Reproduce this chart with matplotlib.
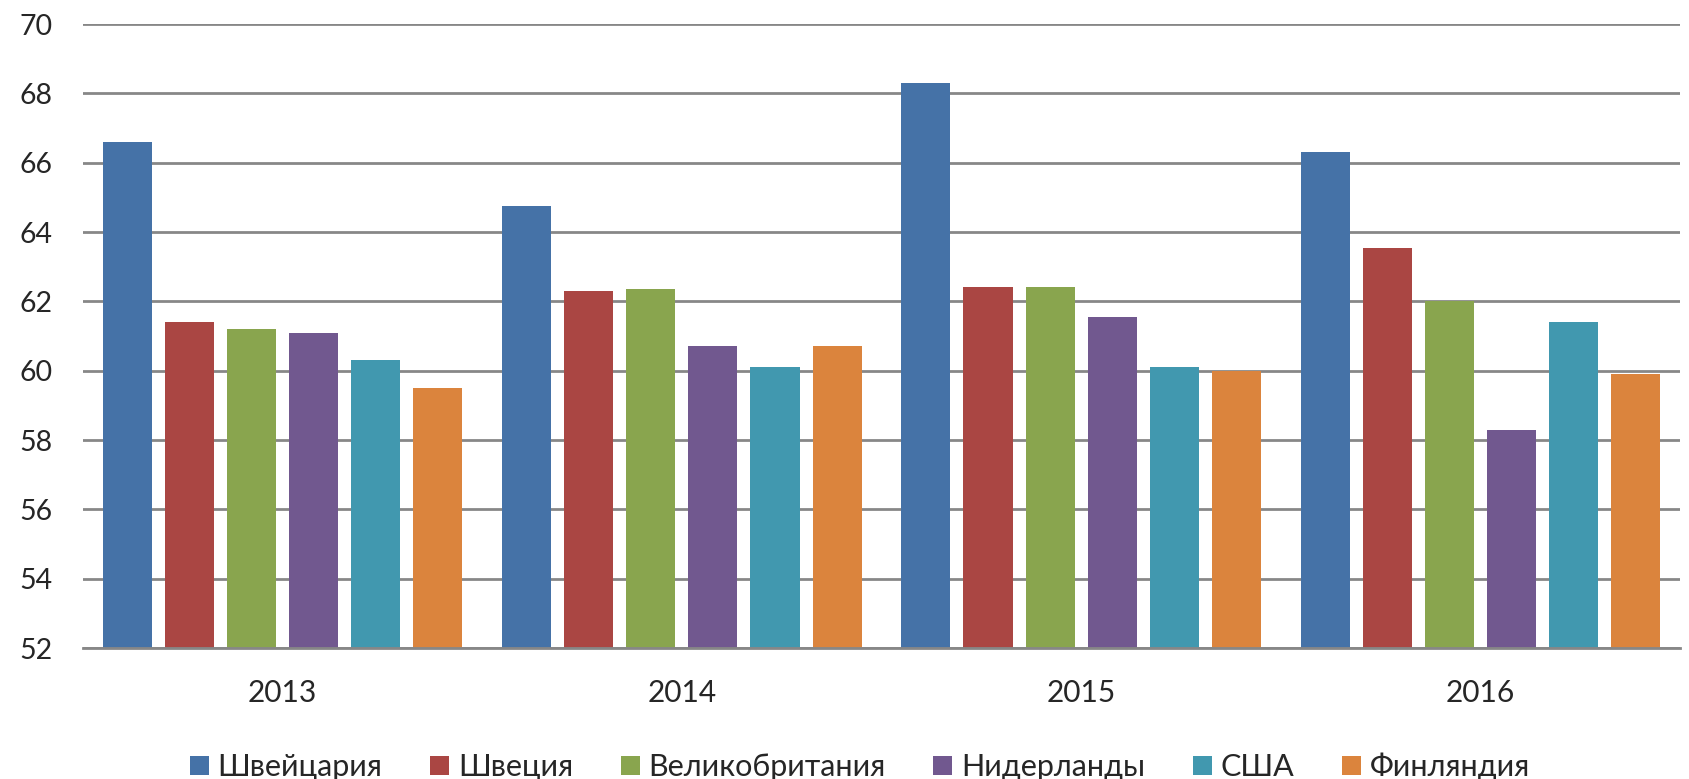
import matplotlib
matplotlib.use("Agg")
import matplotlib.pyplot as plt
import numpy as np

plt.rcParams['font.family'] = ['Lato', 'DejaVu Sans']

years = ['2013', '2014', '2015', '2016']
series_names = ['Швейцария', 'Швеция', 'Великобритания', 'Нидерланды', 'США', 'Финляндия']
switzerland = [66.6, 64.75, 68.3, 66.3]
sweden = [61.4, 62.3, 62.4, 63.55]
uk = [61.2, 62.35, 62.4, 62.0]
netherlands = [61.1, 60.7, 61.55, 58.3]
usa = [60.3, 60.1, 60.1, 61.4]
finland = [59.5, 60.7, 60.0, 59.9]
y_ticks = [52, 54, 56, 58, 60, 62, 64, 66, 68, 70]

series = [switzerland, sweden, uk, netherlands, usa, finland]
colors = ['#4572A7', '#AA4643', '#89A54E', '#71588F', '#4198AF', '#DB843D']

fig = plt.figure(figsize=(16.89, 7.79), dpi=100)
ax = fig.add_axes([83/1689, 1-648/779, (1680-83)/1689, (648-24)/779])

x = np.arange(len(years))
pitch = 0.1555
width = 0.123
for i, (vals, name, c) in enumerate(zip(series, series_names, colors)):
    offs = (i - 2.5) * pitch
    ax.bar(x + offs, np.array(vals) - 52, bottom=52, width=width, color=c, label=name, zorder=3)

ax.set_xlim(-0.5, 3.5)
ax.set_ylim(52, 70)
ax.set_yticks(y_ticks)
ax.set_yticklabels([str(t) for t in y_ticks], fontsize=20.5, color='#262626')
ax.set_xticks(x)
ax.set_xticklabels(years, fontsize=21.5, color='#262626')
ax.tick_params(axis='both', length=0)
ax.tick_params(axis='y', pad=22)
ax.tick_params(axis='x', pad=22)
ax.grid(axis='y', color='#878787', linewidth=2, zorder=0)
for s in ['top', 'right', 'left']:
    ax.spines[s].set_visible(False)
ax.spines['bottom'].set_color('#878787')
ax.spines['bottom'].set_linewidth(2)
ax.spines['bottom'].set_zorder(4)

handles, labels = ax.get_legend_handles_labels()
fig.legend(handles, labels, loc='center', bbox_to_anchor=(860/1689, 1-767/779),
           ncol=6, frameon=False, fontsize=22, handlelength=0.62, handleheight=0.62,
           handletextpad=0.3, columnspacing=1.55, labelcolor='#262626')

fig.savefig('out.png', dpi=100, facecolor='white')
